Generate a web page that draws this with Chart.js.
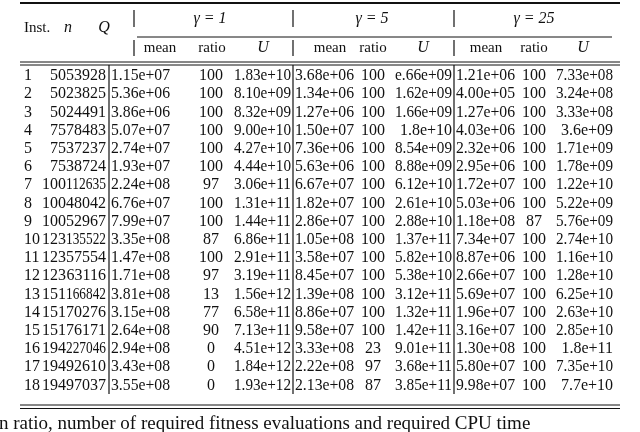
<!DOCTYPE html>
<html><head><meta charset="utf-8">
<script src="https://cdn.jsdelivr.net/npm/chart.js@4"></script>
<style>html,body{margin:0;padding:0;background:#fff}#wrap{width:640px;height:432px}</style>
</head><body><div id="wrap"><canvas id="c"></canvas></div>
<script>
const inst = [1,2,3,4,5,6,7,8,9,10,11,12,13,14,15,16,17,18];
const nVals = [50,50,50,75,75,75,100,100,100,123,123,123,151,151,151,194,194,194];
const qVals = [53928,23825,24491,78483,37237,38724,112635,48042,52967,135522,57554,63116,166842,70276,76171,227046,92610,97037];
const g1Mean = ['1.15e+07','5.36e+06','3.86e+06','5.07e+07','2.74e+07','1.93e+07','2.24e+08','6.76e+07','7.99e+07','3.35e+08','1.47e+08','1.71e+08','3.81e+08','3.15e+08','2.64e+08','2.94e+08','3.43e+08','3.55e+08'];
const g1Ratio = [100,100,100,100,100,100,97,100,100,87,100,97,13,77,90,0,0,0];
const g1U = ['1.83e+10','8.10e+09','8.32e+09','9.00e+10','4.27e+10','4.44e+10','3.06e+11','1.31e+11','1.44e+11','6.86e+11','2.91e+11','3.19e+11','1.56e+12','6.58e+11','7.13e+11','4.51e+12','1.84e+12','1.93e+12'];
const g5Mean = ['3.68e+06','1.34e+06','1.27e+06','1.50e+07','7.36e+06','5.63e+06','6.67e+07','1.82e+07','2.86e+07','1.05e+08','3.58e+07','8.45e+07','1.39e+08','8.86e+07','9.58e+07','3.33e+08','2.22e+08','2.13e+08'];
const g5Ratio = [100,100,100,100,100,100,100,100,100,100,100,100,100,100,100,23,97,87];
const g5U = ['e.66e+09','1.62e+09','1.66e+09','1.8e+10','8.54e+09','8.88e+09','6.12e+10','2.61e+10','2.88e+10','1.37e+11','5.82e+10','5.38e+10','3.12e+11','1.32e+11','1.42e+11','9.01e+11','3.68e+11','3.85e+11'];
const g25Mean = ['1.21e+06','4.00e+05','1.27e+06','4.03e+06','2.32e+06','2.95e+06','1.72e+07','5.03e+06','1.18e+08','7.34e+07','8.87e+06','2.66e+07','5.69e+07','1.96e+07','3.16e+07','1.30e+08','5.80e+07','9.98e+07'];
const g25Ratio = [100,100,100,100,100,100,100,100,87,100,100,100,100,100,100,100,100,100];
const g25U = ['7.33e+08','3.24e+08','3.33e+08','3.6e+09','1.71e+09','1.78e+09','1.22e+10','5.22e+09','5.76e+09','2.74e+10','1.16e+10','1.28e+10','6.25e+10','2.63e+10','2.85e+10','1.8e+11','7.35e+10','7.7e+10'];
const groupLabels = ['γ = 1','γ = 5','γ = 25'];
const caption = 'n ratio, number of required fitness evaluations and required CPU time';

// layout: [values, x, align, maxWidth]
const cols = [
  [inst, 24, 'left'], [nVals, 66, 'right'], [qVals, 106, 'right', 40],
  [g1Mean, 111, 'left', 59], [g1Ratio, 211, 'center'], [g1U, 291, 'right', 57],
  [g5Mean, 295, 'left', 59], [g5Ratio, 373, 'center'], [g5U, 452, 'right', 57],
  [g25Mean, 456, 'left', 59], [g25Ratio, 534, 'center'], [g25U, 613, 'right', 57]
];
const serif = '"Liberation Serif", "DejaVu Serif", serif';

const tablePlugin = {
  id: 'table',
  afterDraw(chart) {
    const ctx = chart.ctx, X = v => chart.scales.x.getPixelForValue(v), Y = v => chart.scales.y.getPixelForValue(v);
    ctx.save();
    ctx.fillStyle = '#111'; ctx.strokeStyle = '#111';
    const hline = (y, x0, x1, w) => { ctx.lineWidth = w; ctx.beginPath(); ctx.moveTo(X(x0), Y(y)); ctx.lineTo(X(x1), Y(y)); ctx.stroke(); };
    const vline = (x, y0, y1) => { ctx.lineWidth = 1.2; ctx.beginPath(); ctx.moveTo(X(x), Y(y0)); ctx.lineTo(X(x), Y(y1)); ctx.stroke(); };
    hline(3, 20, 620, 2); hline(62, 20, 620, 1); hline(65, 20, 620, 1);
    hline(405, 20, 620, 1); hline(408.5, 20, 620, 1); hline(37, 137, 612, 1);
    [134, 293, 454].forEach(x => { vline(x, 10, 27); vline(x, 40, 56); });
    [109, 293, 454].forEach(x => vline(x, 65, 394));
    ctx.textBaseline = 'middle';
    ctx.font = '15px ' + serif; ctx.textAlign = 'left'; ctx.fillText('Inst.', X(24), Y(28));
    ctx.font = 'italic 16px ' + serif; ctx.textAlign = 'center';
    ctx.fillText('n', X(68), Y(28)); ctx.fillText('Q', X(104), Y(28));
    [210, 372, 534].forEach((x, i) => ctx.fillText(groupLabels[i], X(x), Y(19)));
    [[160, 212, 263], [330, 373, 423], [486, 534, 583]].forEach(g => {
      ctx.font = '15px ' + serif; ctx.fillText('mean', X(g[0]), Y(48)); ctx.fillText('ratio', X(g[1]), Y(48));
      ctx.font = 'italic 16px ' + serif; ctx.fillText('U', X(g[2]), Y(48));
    });
    ctx.font = '16px ' + serif;
    cols.forEach(([vals, x, al, mw]) => {
      ctx.textAlign = al;
      vals.forEach((v, r) => {
        if (mw) ctx.fillText(String(v), X(x), Y(76 + r * 18.2), mw);
        else ctx.fillText(String(v), X(x), Y(76 + r * 18.2));
      });
    });
    ctx.font = '19px ' + serif; ctx.textAlign = 'left'; ctx.fillText(caption, X(-1), Y(424));
    ctx.restore();
  }
};

new Chart(document.getElementById('c'), {
  type: 'scatter',
  data: { datasets: [{ data: [] }] },
  options: {
    responsive: true, maintainAspectRatio: false, animation: false,
    layout: { padding: 0 },
    plugins: { legend: { display: false }, tooltip: { enabled: false } },
    scales: {
      x: { type: 'linear', min: 0, max: 640, display: false },
      y: { type: 'linear', min: 0, max: 432, reverse: true, display: false }
    }
  },
  plugins: [tablePlugin]
});
</script></body></html>
